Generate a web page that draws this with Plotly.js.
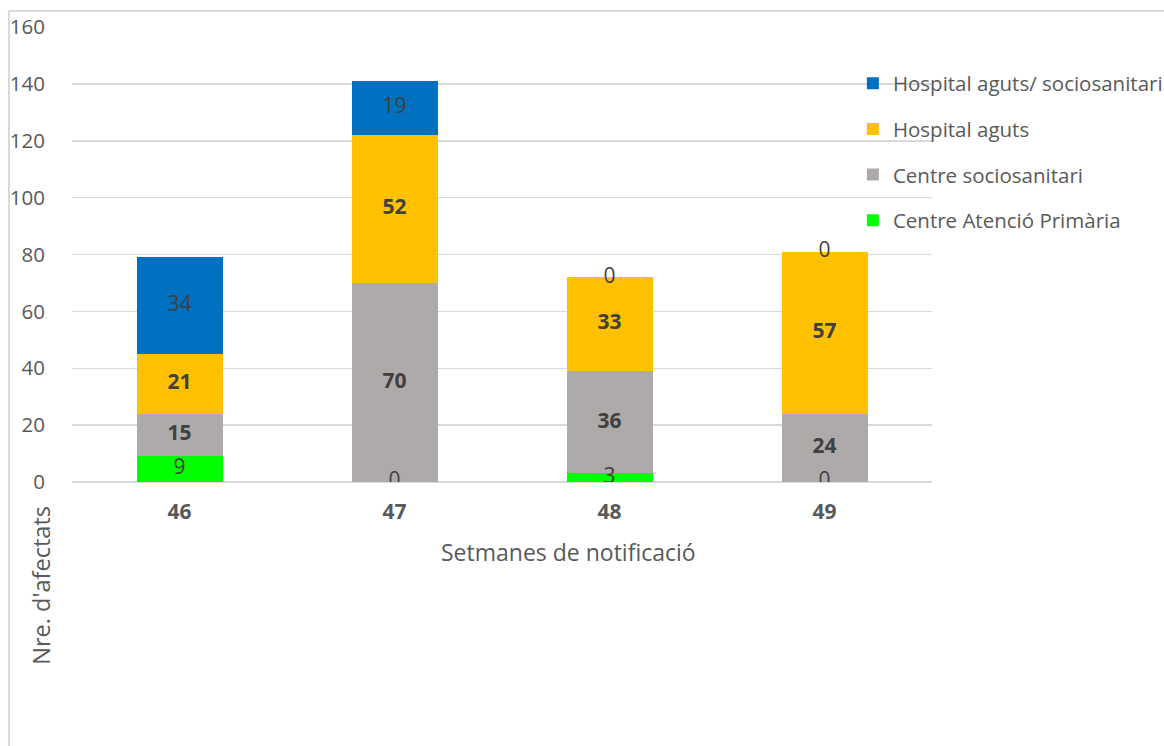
<!DOCTYPE html>
<html>
<head>
<meta charset="utf-8">
<script src="https://cdn.plot.ly/plotly-3.0.1.min.js"></script>
<style>html,body{margin:0;padding:0;background:#fff;}#chart{width:1164px;height:746px;}</style>
</head>
<body>
<div id="chart"></div>
<script>
var weeks = ['46', '47', '48', '49'];
var seriesNames = ['Centre Atenció Primària', 'Centre sociosanitari', 'Hospital aguts', 'Hospital aguts/ sociosanitari'];
var primaria = [9, 0, 3, 0];
var sociosanitari = [15, 70, 36, 24];
var aguts = [21, 52, 33, 57];
var agutsSocio = [34, 19, 0, 0];
var seriesColors = ['#00FF00', '#AEAAAA', '#FFC000', '#0070C0'];
var labelBold = [false, true, true, false];
var yTicks = [0, 20, 40, 60, 80, 100, 120, 140, 160];

var seriesValues = [primaria, sociosanitari, aguts, agutsSocio];
var FONT = 'Open Sans, sans-serif';
var traces = [];
var base = weeks.map(function(){return 0;});
seriesValues.forEach(function(vals, i) {
  traces.push({
    type: 'bar', x: weeks, y: vals, name: seriesNames[i],
    marker: {color: seriesColors[i]}, width: 0.4,
    legendgroup: 'g' + i, legendrank: 10 - i, hoverinfo: 'skip'
  });
});
seriesValues.forEach(function(vals, i) {
  var mids = vals.map(function(v, k){ var m = base[k] + v / 2; base[k] += v; return m; });
  traces.push({
    type: 'scatter', mode: 'text', x: weeks, y: mids, showlegend: false, hoverinfo: 'skip',
    text: vals.map(function(v){ return labelBold[i] ? '<b>' + v + '</b>' : String(v); }),
    textposition: 'middle center',
    textfont: {family: FONT, size: 21, color: '#404040'}
  });
});

var layout = {
  width: 1164, height: 746,
  margin: {l: 72, r: 232, t: 27, b: 264, autoexpand: false},
  paper_bgcolor: '#fff', plot_bgcolor: '#fff',
  barmode: 'stack',
  bargap: 0.6,
  showlegend: true,
  font: {family: FONT, color: '#595959'},
  legend: {
    x: 0.908, y: 0.92, xanchor: 'left', yanchor: 'top',
    traceorder: 'grouped', tracegroupgap: 16, itemwidth: 30,
    font: {family: FONT, size: 20.5, color: '#595959'},
    bgcolor: 'rgba(0,0,0,0)'
  },
  xaxis: {
    type: 'category', showgrid: false, zeroline: false, showline: false,
    ticks: 'outside', ticklen: 11, tickcolor: 'rgba(0,0,0,0)',
    tickvals: weeks, ticktext: weeks.map(function(w){return '<b>' + w + '</b>';}),
    tickfont: {family: FONT, size: 21, color: '#595959'},
    fixedrange: true
  },
  yaxis: {
    range: [0, 160], tickvals: yTicks, showgrid: true, gridcolor: '#D9D9D9', gridwidth: 1.5,
    zeroline: true, zerolinecolor: '#D9D9D9', zerolinewidth: 1.5, showline: false,
    ticks: 'outside', ticklen: 22, tickcolor: 'rgba(0,0,0,0)',
    tickfont: {family: FONT, size: 20.5, color: '#595959'},
    fixedrange: true
  },
  annotations: [
    {xref: 'paper', yref: 'paper', x: 0.577, y: -0.154, xanchor: 'center', yanchor: 'middle',
     text: 'Setmanes de notificació', showarrow: false, font: {family: FONT, size: 23, color: '#595959'}},
    {xref: 'paper', yref: 'paper', x: -0.0355, y: -0.227, xanchor: 'center', yanchor: 'middle', textangle: -90,
     text: "Nre. d'afectats", showarrow: false, font: {family: FONT, size: 23.5, color: '#595959'}}
  ],
  shapes: [
    {type: 'line', xref: 'paper', yref: 'paper', x0: -0.0733, x1: -0.0733, y0: 1.0352, y1: -0.7, line: {color: '#D9D9D9', width: 2}},
    {type: 'line', xref: 'paper', yref: 'paper', x0: -0.0733, x1: 1.4, y0: 1.0352, y1: 1.0352, line: {color: '#D9D9D9', width: 2}}
  ]
};
Plotly.newPlot('chart', traces, layout, {displayModeBar: false, staticPlot: true});
</script>
</body>
</html>
